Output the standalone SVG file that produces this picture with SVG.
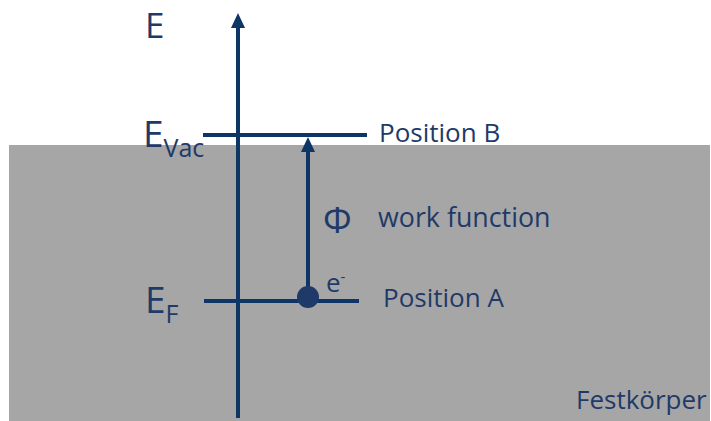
<svg xmlns="http://www.w3.org/2000/svg" width="711" height="421" viewBox="0 0 711 421">
  <style>
    .ln { stroke: #0d3566; stroke-width: 4; fill: none; }
    .t { font-family: "Open Sans", "Noto Sans", sans-serif; fill: #1f3a68; }
  </style>
  <defs>
    <marker id="ah" viewBox="0 0 15 14" refX="1" refY="7" markerWidth="15" markerHeight="14" markerUnits="userSpaceOnUse" orient="auto">
      <path d="M0,0 L15,7 L0,14 z" fill="#0d3566"/>
    </marker>
  </defs>
  <rect id="solid" x="9" y="145" width="701" height="276" fill="#a6a6a6"/>
  <g id="connectors">
    <line id="energy-axis" class="ln" x1="238" y1="418" x2="238" y2="27" marker-end="url(#ah)"/>
    <line id="work-arrow" class="ln" x1="308" y1="297" x2="308" y2="151" marker-end="url(#ah)"/>
  </g>
  <g id="level-vac">
    <line class="ln" x1="203" y1="135" x2="367" y2="135"/>
    <text class="t" x="379" y="142" font-size="26">Position B</text>
  </g>
  <g id="level-fermi">
    <line class="ln" x1="204" y1="301" x2="359" y2="301"/>
    <text class="t" x="383" y="307" font-size="26">Position A</text>
  </g>
  <g id="electron">
    <circle cx="308" cy="297" r="11" fill="#1f3a68"/>
    <text class="t" x="326" y="292" font-size="26">e<tspan font-size="15" dy="-10">-</tspan></text>
  </g>
  <g id="work-function">
    <text class="t" x="323" y="233" font-size="36">Φ</text>
    <text class="t" x="378" y="227" font-size="26.8">work function</text>
  </g>
  <g id="labels">
    <text class="t" x="145" y="38" font-size="35">E</text>
    <text class="t" x="143" y="147" font-size="37">E<tspan font-size="25" dy="10">Vac</tspan></text>
    <text class="t" x="145" y="313" font-size="37">E<tspan font-size="25" dy="10">F</tspan></text>
    <text class="t" x="576" y="409" font-size="26">Festkörper</text>
  </g>
</svg>
